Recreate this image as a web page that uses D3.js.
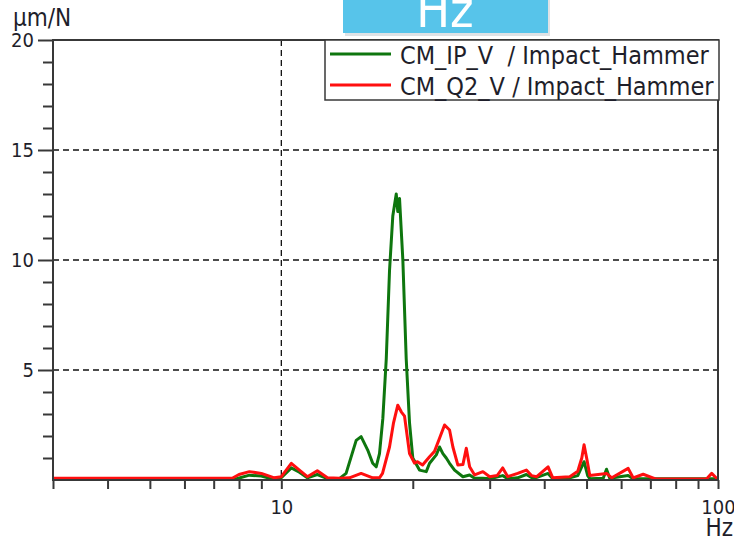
<!DOCTYPE html>
<html>
<head>
<meta charset="utf-8">
<script src="https://cdn.jsdelivr.net/npm/d3@7/dist/d3.min.js"></script>
<style>
    body { margin: 0; background: #fff; }
    text { font-family: "DejaVu Sans Condensed", "DejaVu Sans", sans-serif; font-stretch: condensed; fill: #1e1e2a; }
</style>
</head>
<body>
<div id="chart"></div>
<script>

// legend labels
const seriesNames = ["CM_IP_V  / Impact_Hammer", "CM_Q2_V / Impact_Hammer"];
const seriesColors = ["#0e760e", "#ff0f0f"];

// CM_IP_V : frequency (Hz) and amplitude (µm/N)
const ipFreq = [3.0, 7.9, 8.45, 9.0, 9.5, 10.0, 10.54, 11.0, 11.47, 12.09, 12.75, 13.58, 14.07, 14.84, 15.23, 15.77, 16.19, 16.49,
    16.78, 17.08, 17.39, 17.69, 18.0, 18.33, 18.48, 18.65, 18.98, 19.32, 19.66, 20.0, 20.72, 21.47, 21.85, 22.64, 23.03, 23.44,
    23.86, 24.28, 24.93, 26.05, 26.99, 27.71, 28.95, 30.0, 32.14, 33.0, 34.77, 36.4, 37.8, 40.82, 41.84, 45.77, 47.74, 49.35,
    50.3, 50.86, 54.6, 55.55, 56.5, 62.27, 63.9, 100];
const ipAmp = [0.06, 0.06, 0.22, 0.18, 0.06, 0.1, 0.55, 0.35, 0.1, 0.25, 0.06, 0.06, 0.3, 1.8, 1.97, 1.36, 0.76, 0.6,
    1.2, 2.8, 5.5, 9.5, 12.0, 13.0, 12.2, 12.8, 10.0, 5.5, 2.6, 1.0, 0.45, 0.38, 0.76, 1.14, 1.5, 1.2,
    1.0, 0.76, 0.45, 0.15, 0.23, 0.08, 0.08, 0.06, 0.2, 0.06, 0.1, 0.25, 0.06, 0.3, 0.06, 0.1, 0.2, 0.83,
    0.2, 0.06, 0.08, 0.49, 0.08, 0.2, 0.06, 0.06];

// CM_Q2_V : frequency (Hz) and amplitude (µm/N)
const q2Freq = [3.0, 7.72, 8.0, 8.45, 9.0, 9.64, 10.0, 10.54, 11.0, 11.47, 12.09, 12.75, 13.58, 14.32, 15.23, 16.19, 16.78,
    17.05, 17.69, 18.07, 18.48, 18.82, 19.15, 19.66, 20.18, 20.5, 21.06, 21.85, 22.43, 23.03, 23.65, 24.28, 24.71, 25.37,
    26.05, 26.52, 26.99, 27.71, 28.95, 30.0, 31.2, 32.14, 33.0, 34.77, 36.4, 37.4, 38.45, 40.82, 41.84, 45.77, 47.74, 48.76,
    49.35, 50.14, 50.86, 55.55, 57.13, 62.27, 63.92, 67.4, 70.93, 72.0, 94.21, 96.74, 99.0, 100];
const q2Amp = [0.08, 0.08, 0.25, 0.38, 0.3, 0.1, 0.15, 0.76, 0.45, 0.15, 0.42, 0.1, 0.08, 0.1, 0.3, 0.1, 0.1,
    0.3, 1.5, 2.6, 3.4, 3.1, 2.9, 1.2, 0.77, 0.83, 0.68, 1.06, 1.3, 1.9, 2.5, 2.27, 1.5, 0.68,
    0.7, 1.44, 0.6, 0.23, 0.38, 0.15, 0.2, 0.55, 0.15, 0.3, 0.45, 0.2, 0.15, 0.6, 0.1, 0.15, 0.4, 1.0,
    1.6, 0.9, 0.2, 0.3, 0.1, 0.53, 0.1, 0.26, 0.1, 0.05, 0.06, 0.3, 0.1, 0.06];

// axes
const xDomain = [3, 100];
const xTickValues = [3, 4, 5, 6, 7, 8, 9, 10, 20, 30, 40, 50, 60, 70, 80, 90, 100];
const xTickLabels = [10, 100];
const yDomain = [0, 20];
const yMajorTicks = [5, 10, 15, 20];
const yMinorTicks = [1, 2, 3, 4, 6, 7, 8, 9, 11, 12, 13, 14, 16, 17, 18, 19];
const yGridValues = [5, 10, 15];
const xGridValues = [10];
const yUnit = "µm/N";
const xUnit = "Hz";


class FrfChart {

    constructor(parentElement, width, height) {
        this.parentElement = parentElement;
        this.baseWidth = width;
        this.baseHeight = height;

        this.initVis();
    }

    initVis() {
        let vis = this;

        vis.margin = {top: 40, right: 16, bottom: 60, left: 53};
        vis.width = vis.baseWidth - vis.margin.left - vis.margin.right;
        vis.height = vis.baseHeight - vis.margin.top - vis.margin.bottom;

        vis.root = d3.select("#" + vis.parentElement).append("svg")
            .attr("width", vis.baseWidth)
            .attr("height", vis.baseHeight);

        vis.svg = vis.root.append("g")
            .attr("transform", "translate(" + vis.margin.left + "," + vis.margin.top + ")");

        vis.x = d3.scaleLog().domain(xDomain).range([0, vis.width]);
        vis.y = d3.scaleLinear().domain(yDomain).range([vis.height, 0]);

        vis.wrangleData();
    }

    wrangleData() {
        let vis = this;

        vis.series = [
            {name: seriesNames[0], color: seriesColors[0], values: ipFreq.map((f, i) => ({f: f, a: ipAmp[i]}))},
            {name: seriesNames[1], color: seriesColors[1], values: q2Freq.map((f, i) => ({f: f, a: q2Amp[i]}))}
        ];

        vis.updateVis();
    }

    updateVis() {
        let vis = this;
        let axisColor = "#383838";

        // grid
        vis.svg.selectAll(".hgrid").data(yGridValues).enter().append("line")
            .attr("class", "hgrid")
            .attr("x1", 0).attr("x2", vis.width)
            .attr("y1", d => vis.y(d)).attr("y2", d => vis.y(d))
            .attr("stroke", "#111").attr("stroke-width", 1.3)
            .attr("stroke-dasharray", "6,4");

        vis.svg.selectAll(".vgrid").data(xGridValues).enter().append("line")
            .attr("class", "vgrid")
            .attr("x1", d => vis.x(d)).attr("x2", d => vis.x(d))
            .attr("y1", 0).attr("y2", vis.height)
            .attr("stroke", "#111").attr("stroke-width", 1.3)
            .attr("stroke-dasharray", "6,4");

        // curves
        let line = d3.line()
            .x(d => vis.x(d.f))
            .y(d => vis.y(d.a));

        vis.svg.selectAll(".curve").data(vis.series).enter().append("path")
            .attr("class", "curve")
            .attr("d", d => line(d.values))
            .attr("fill", "none")
            .attr("stroke", d => d.color)
            .attr("stroke-width", 3)
            .attr("stroke-linejoin", "round");

        // y axis, major + minor ticks
        let yMajor = vis.svg.append("g")
            .call(d3.axisLeft(vis.y).tickValues(yMajorTicks).tickSize(15).tickPadding(4));
        let yMinor = vis.svg.append("g")
            .call(d3.axisLeft(vis.y).tickValues(yMinorTicks).tickSize(10).tickFormat(""));

        // x axis
        let xAxis = vis.svg.append("g")
            .attr("transform", "translate(0," + vis.height + ")")
            .call(d3.axisBottom(vis.x).tickValues(xTickValues).tickSize(9).tickPadding(11)
                .tickFormat(d => xTickLabels.includes(d) ? d : ""));

        [yMajor, yMinor, xAxis].forEach(g => {
            g.select(".domain").remove();
            g.selectAll(".tick line").attr("stroke", axisColor).attr("stroke-width", 2);
            g.selectAll(".tick text").style("font-size", "20px").attr("fill", "#1e1e2a");
        });

        // frame
        vis.svg.append("rect")
            .attr("x", 0).attr("y", 0)
            .attr("width", vis.width).attr("height", vis.height)
            .attr("fill", "none")
            .attr("stroke", axisColor).attr("stroke-width", 2);

        // unit labels
        vis.root.append("text")
            .attr("x", 13).attr("y", 26)
            .style("font-size", "24px")
            .text(yUnit);

        vis.root.append("text")
            .attr("x", 733).attr("y", 536)
            .attr("text-anchor", "end")
            .style("font-size", "24px")
            .text(xUnit);

        // legend
        let legend = vis.svg.append("g")
            .attr("transform", "translate(" + (325 - vis.margin.left) + ",0)");

        legend.append("rect")
            .attr("width", 394).attr("height", 60)
            .attr("fill", "#fff")
            .attr("stroke", axisColor).attr("stroke-width", 1.5);

        let rows = legend.selectAll(".row").data(vis.series).enter().append("g")
            .attr("class", "row")
            .attr("transform", (d, i) => "translate(0," + (14 + i * 31) + ")");

        rows.append("line")
            .attr("x1", 5).attr("x2", 66)
            .attr("stroke", d => d.color).attr("stroke-width", 3);

        rows.append("text")
            .attr("x", 75).attr("y", 10)
            .style("font-size", "25px")
            .style("white-space", "pre")
            .text(d => d.name);

        // "Hz" tab at the top
        let tab = vis.root.append("g");
        tab.append("rect")
            .attr("x", 345).attr("y", -10)
            .attr("width", 205).attr("height", 46)
            .attr("fill", "#c4cacf").attr("opacity", 0.55);
        tab.append("rect")
            .attr("x", 343).attr("y", -10)
            .attr("width", 205).attr("height", 43)
            .attr("fill", "#57c4ea");
        tab.append("text")
            .attr("x", 445).attr("y", 27)
            .attr("text-anchor", "middle")
            .style("font-size", "50px")
            .style("fill", "#fff")
            .text(xUnit);
    }
}

new FrfChart("chart", 734, 540);

</script>
</body>
</html>
